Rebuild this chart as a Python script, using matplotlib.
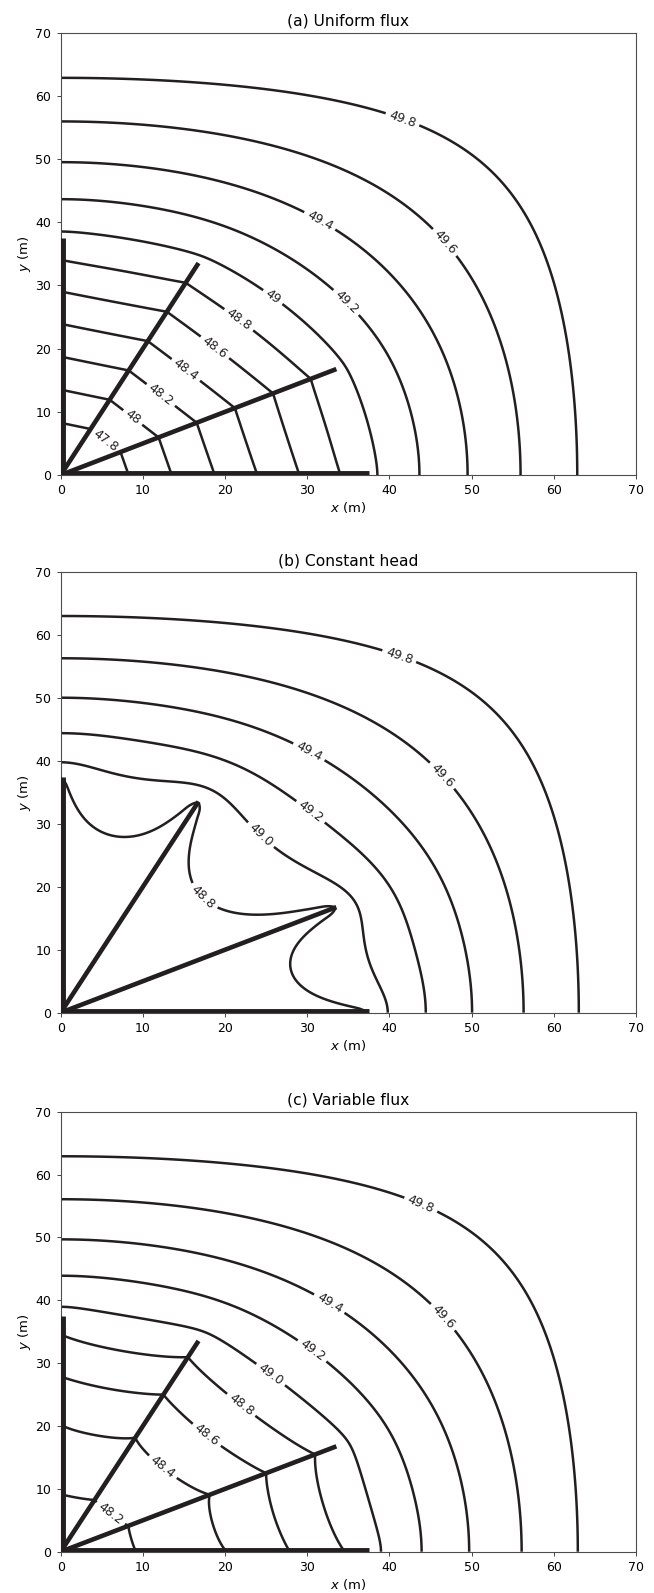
import numpy as np
import matplotlib
matplotlib.use("Agg")
import matplotlib.pyplot as plt

# ---- values ----
levels = [47.8, 48.0, 48.2, 48.4, 48.6, 48.8, 49.0, 49.2, 49.4, 49.6, 49.8]
lateral_angles = [0.0, 26.565, 63.435, 90.0]   # degrees, one quadrant
lateral_length = 37.5                          # m
boundary_head = 50.0                           # head on the square edge
half_width = 70.0                              # square domain [-70, 70]
calib_x, calib_head = 62.85, 49.8              # (a): 49.8 contour crosses x axis here
well_head_b = 48.76                            # (b): head held on the laterals
# (c): head along each lateral, from where the contours cross it
profile_s = [0.0, 9.2, 20.2, 27.9, 34.6, 37.5]
profile_h = [48.06, 48.2, 48.4, 48.6, 48.8, 48.9]

titles = ["(a) Uniform flux", "(b) Constant head", "(c) Variable flux"]
label_fmts = ["%g", "%.1f", "%.1f"]
label_pos_a = [(5.8, 6.1), (9.0, 9.5), (12.5, 13.2), (15.5, 17.1), (19.0, 20.6),
               (21.8, 24.8), (26.0, 28.5), (34.8, 27.4), (31.6, 40.4),
               (46.8, 36.9), (41.7, 56.7)]
label_pos_b = [(17.0, 17.9), (23.8, 27.5), (30.1, 31.4), (30.1, 41.2),
               (46.1, 37.3), (41.1, 56.3)]
label_pos_c = [(5.6, 5.3), (12.3, 13.3), (17.6, 18.3), (21.8, 23.1), (25.5, 28.1),
               (30.5, 31.8), (32.6, 39.3), (46.4, 37.2), (43.9, 55.5)]

line_color = "#231f20"

# ---- finite-difference grid on the square, head fixed on the edge ----
L = half_width
dx = 0.25
n = int(round(2 * L / dx)) - 1
m = n + 2
xg = -L + dx * np.arange(m)
kk = np.arange(1, n + 1)
lam = (2 * np.cos(np.pi * kk / (n + 1)) - 2) / dx ** 2
den = lam[:, None] + lam[None, :]


def dst1(a):
    z = np.zeros(a.shape[:-1] + (1,))
    ext = np.concatenate([z, a, z, -a[..., ::-1]], axis=-1)
    return -np.fft.rfft(ext, axis=-1).imag[..., 1:n + 1] / 2.0


def solve(f):
    F = dst1(dst1(f[1:-1, 1:-1]).T).T
    u = np.zeros((m, m))
    u[1:-1, 1:-1] = dst1(dst1(F / den).T).T * (2.0 / (n + 1)) ** 2
    return u


def deposit(px, py, w):
    fx, fy = (px + L) / dx, (py + L) / dx
    ix, iy = np.floor(fx).astype(int), np.floor(fy).astype(int)
    tx, ty = fx - ix, fy - iy
    f = np.zeros(m * m)
    for ox, oy, ww in [(0, 0, (1 - tx) * (1 - ty)), (1, 0, tx * (1 - ty)),
                       (0, 1, (1 - tx) * ty), (1, 1, tx * ty)]:
        f += np.bincount((iy + oy) * m + ix + ox, weights=w * ww, minlength=m * m)
    return f.reshape(m, m) / dx ** 2


def sample(u, px, py):
    fx, fy = (px + L) / dx, (py + L) / dx
    ix, iy = np.floor(fx).astype(int), np.floor(fy).astype(int)
    tx, ty = fx - ix, fy - iy
    return (u[iy, ix] * (1 - tx) * (1 - ty) + u[iy, ix + 1] * tx * (1 - ty)
            + u[iy + 1, ix] * (1 - tx) * ty + u[iy + 1, ix + 1] * tx * ty)


# laterals: the quadrant pattern mirrored into all four quadrants
t = np.radians(lateral_angles[1])
c, s = np.cos(t), np.sin(t)
dirs_a = [(1, 0), (-1, 0), (0, 1), (0, -1)]
dirs_b = [(c, s), (-c, s), (c, -s), (-c, -s), (s, c), (-s, c), (s, -c), (-s, -c)]

n_el = 25
el_len = lateral_length / n_el
n_sub = 24
h_sub = el_len / n_sub

groups = []
colloc_x, colloc_y, colloc_s = [], [], []
for dirs in (dirs_a, dirs_b):
    for k in range(n_el):
        sp = k * el_len + (np.arange(n_sub) + 0.5) * h_sub
        px = np.concatenate([sp * d[0] for d in dirs])
        py = np.concatenate([sp * d[1] for d in dirs])
        groups.append((px, py))
        sm = (k + 0.5) * el_len
        colloc_s.append(sm)
        colloc_x.append(sm * dirs[0][0])
        colloc_y.append(sm * dirs[0][1])
colloc_x, colloc_y = np.array(colloc_x), np.array(colloc_y)

all_x = np.concatenate([g[0] for g in groups])
all_y = np.concatenate([g[1] for g in groups])

# (a) uniform flux, scaled to the far contour
u_a = solve(deposit(all_x, all_y, np.full(all_x.size, h_sub)))
scale = (calib_head - boundary_head) / sample(u_a, np.array([calib_x]), np.array([0.0]))[0]

# response of every element group at every element centre
G = np.zeros((len(groups), len(groups)))
for j, (px, py) in enumerate(groups):
    G[:, j] = sample(solve(deposit(px, py, np.full(px.size, h_sub))), colloc_x, colloc_y)


def head_driven(target):
    st = np.linalg.solve(G, (np.asarray(target) - boundary_head) / scale)
    w = np.concatenate([np.full(g[0].size, sj * h_sub) for sj, g in zip(st, groups)])
    return solve(deposit(all_x, all_y, w))


u_b = head_driven(np.full(len(groups), well_head_b))
u_c = head_driven(np.interp(colloc_s, profile_s, profile_h))

i0 = int(round(L / dx))
xq = xg[i0:]
heads = [boundary_head + scale * u[i0:, i0:] for u in (u_a, u_b, u_c)]

# ---- figure ----
plt.rcParams["font.family"] = "DejaVu Sans"
fig = plt.figure(figsize=(6.54, 15.93), dpi=100)
rects = [[0.0928, 0.7018, 0.8797, 0.2777],
         [0.0928, 0.3643, 0.8797, 0.2765],
         [0.0928, 0.0259, 0.8797, 0.2762]]
label_pos = [label_pos_a, label_pos_b, label_pos_c]

for p in range(3):
    ax = fig.add_axes(rects[p])
    cs = ax.contour(xq, xq, heads[p], levels=levels, colors=line_color,
                    linewidths=1.8)
    ax.clabel(cs, inline=True, fmt=label_fmts[p], fontsize=9,
              manual=label_pos[p], inline_spacing=4)
    for ang in lateral_angles:
        a = np.radians(ang)
        # laterals on the axes are half hidden by the clip, so draw them wider
        lw = 6.4 if ang in (0.0, 90.0) else 3.3
        ax.plot([0, lateral_length * np.cos(a)], [0, lateral_length * np.sin(a)],
                color=line_color, lw=lw, solid_capstyle="butt", zorder=5)
    ax.set_xlim(0, 70)
    ax.set_ylim(0, 70)
    ax.set_xticks(range(0, 71, 10))
    ax.set_yticks(range(0, 71, 10))
    ax.tick_params(labelsize=9, length=3.2, width=0.7, color="#444444")
    for sp in ax.spines.values():
        sp.set_color("#4d4d4d")
        sp.set_linewidth(0.8)
    ax.set_title(titles[p], fontsize=11.2, pad=5)
    ax.set_xlabel("$x$ (m)", fontsize=9.5, labelpad=2)
    ax.set_ylabel("$y$ (m)", fontsize=9.5, labelpad=2)

fig.savefig("out.png", dpi=100)
